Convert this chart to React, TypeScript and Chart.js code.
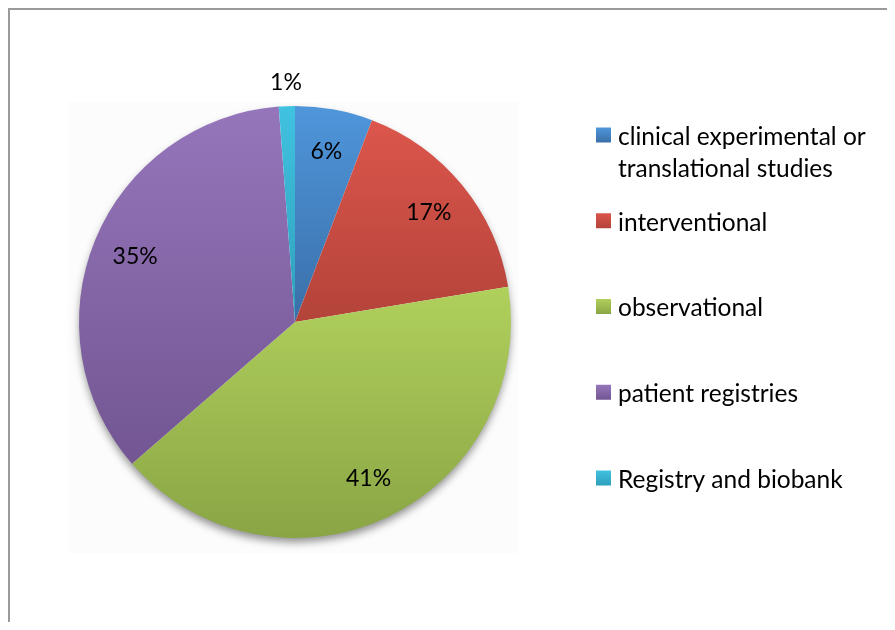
import React, { useEffect, useRef } from "react";
import { Chart, registerables } from "chart.js";

Chart.register(...registerables);

const categories = [
  "clinical experimental or translational studies",
  "interventional",
  "observational",
  "patient registries",
  "Registry and biobank",
];
const shares = [5.8, 16.6, 41.2, 35.2, 1.2];
const topColors = ["#4F96DB", "#DC564C", "#B0D05C", "#9676BB", "#40C2E0"];
const bottomColors = ["#3A6FA8", "#B3433A", "#8AA545", "#725592", "#2E9FBB"];

const FONT = "Lato, 'Open Sans', sans-serif";

function sliceGradient(c: any) {
  const chart = c.chart;
  const area = chart.chartArea;
  const i = c.dataIndex ?? 0;
  if (!area) return topColors[i];
  const data = chart.data.datasets[0].data as number[];
  const total = data.reduce((a, b) => a + b, 0);
  const before = data.slice(0, i).reduce((a, b) => a + b, 0);
  const a0 = -Math.PI / 2 + (before / total) * 2 * Math.PI;
  const a1 = a0 + (data[i] / total) * 2 * Math.PI;
  const cy = (area.top + area.bottom) / 2;
  const r = Math.min(area.width, area.height) / 2;
  const ys = [cy, cy + r * Math.sin(a0), cy + r * Math.sin(a1)];
  for (const t of [-Math.PI / 2, Math.PI / 2, (3 * Math.PI) / 2]) {
    if (t >= a0 && t <= a1) ys.push(cy + r * Math.sin(t));
  }
  const y0 = Math.min(...ys);
  const y1 = Math.max(...ys) + 0.5;
  const g = chart.ctx.createLinearGradient(0, y0, 0, y1);
  g.addColorStop(0, topColors[i]);
  g.addColorStop(1, bottomColors[i]);
  return g;
}

const backdropPlugin = {
  id: "backdrop",
  beforeDatasetsDraw(chart: any) {
    const ctx = chart.ctx;
    const meta = chart.getDatasetMeta(0);
    const el = meta.data[0];
    if (!el) return;
    const { x, y, outerRadius } = el.getProps(["x", "y", "outerRadius"], true);
    ctx.save();
    ctx.fillStyle = "#FCFCFC";
    ctx.fillRect(x - outerRadius - 11, y - outerRadius - 4, 2 * outerRadius + 18, 2 * outerRadius + 19);
    ctx.shadowColor = "rgba(0,0,0,0.45)";
    ctx.shadowBlur = 9;
    ctx.shadowOffsetX = 0;
    ctx.shadowOffsetY = 5;
    ctx.fillStyle = "#ffffff";
    ctx.beginPath();
    ctx.arc(x, y, outerRadius - 1, 0, Math.PI * 2);
    ctx.fill();
    ctx.restore();
  },
};

const labelPlugin = {
  id: "sliceLabels",
  afterDatasetsDraw(chart: any) {
    const ctx = chart.ctx;
    const data = chart.data.datasets[0].data as number[];
    const total = data.reduce((a, b) => a + b, 0);
    const meta = chart.getDatasetMeta(0);
    ctx.save();
    ctx.font = `23px ${FONT}`;
    ctx.fillStyle = "#000000";
    ctx.textAlign = "center";
    ctx.textBaseline = "middle";
    meta.data.forEach((el: any, i: number) => {
      const { x, y, startAngle, endAngle, outerRadius } = el.getProps(
        ["x", "y", "startAngle", "endAngle", "outerRadius"],
        true
      );
      const mid = (startAngle + endAngle) / 2;
      const pct = Math.round((data[i] / total) * 100);
      const frac = pct < 3 ? 1.11 : 0.8;
      ctx.fillText(pct + "%", x + Math.cos(mid) * outerRadius * frac, y + Math.sin(mid) * outerRadius * frac);
    });
    ctx.restore();
  },
};

function wrap(ctx: CanvasRenderingContext2D, text: string, maxW: number) {
  const words = text.split(" ");
  const lines: string[] = [];
  let cur = "";
  for (const w of words) {
    const test = cur ? cur + " " + w : w;
    if (ctx.measureText(test).width > maxW && cur) {
      lines.push(cur);
      cur = w;
    } else cur = test;
  }
  if (cur) lines.push(cur);
  return lines;
}

const legendPlugin = {
  id: "customLegend",
  afterDraw(chart: any) {
    const ctx = chart.ctx;
    const labels = chart.data.labels as string[];
    const sqX = 586;
    const textX = 608;
    const startY = 125;
    const step = 85.75;
    const size = 15;
    ctx.save();
    ctx.font = `24.5px ${FONT}`;
    ctx.textAlign = "left";
    ctx.textBaseline = "middle";
    labels.forEach((lab, i) => {
      const cy = startY + i * step;
      const g = ctx.createLinearGradient(0, cy - size / 2, 0, cy + size / 2);
      g.addColorStop(0, topColors[i]);
      g.addColorStop(1, bottomColors[i]);
      ctx.fillStyle = g;
      ctx.fillRect(sqX, cy - size / 2, size, size);
      ctx.fillStyle = "#000000";
      const lines = wrap(ctx, lab, 262);
      lines.forEach((ln, k) => ctx.fillText(ln, textX, cy + 2 + k * 32));
    });
    ctx.restore();
  },
};

export default function App() {
  const ref = useRef<HTMLCanvasElement | null>(null);
  useEffect(() => {
    if (!ref.current) return;
    const chart = new Chart(ref.current, {
      type: "pie",
      data: {
        labels: categories,
        datasets: [
          {
            data: shares,
            backgroundColor: sliceGradient as any,
            borderWidth: 0,
          },
        ],
      },
      options: {
        responsive: false,
        maintainAspectRatio: false,
        animation: false,
        events: [],
        layout: { padding: { left: 69, top: 96, right: 376, bottom: 84 } },
        plugins: {
          legend: { display: false },
          tooltip: { enabled: false },
        },
      },
      plugins: [backdropPlugin, labelPlugin, legendPlugin],
    });
    return () => chart.destroy();
  }, []);
  return (
    <div
      style={{
        position: "relative",
        width: 879,
        height: 614,
        boxSizing: "border-box",
        borderTop: "2px solid #9a9a9a",
        borderLeft: "2px solid #9a9a9a",
        background: "#ffffff",
      }}
    >
      <canvas ref={ref} width={877} height={612} style={{ display: "block" }} />
    </div>
  );
}
